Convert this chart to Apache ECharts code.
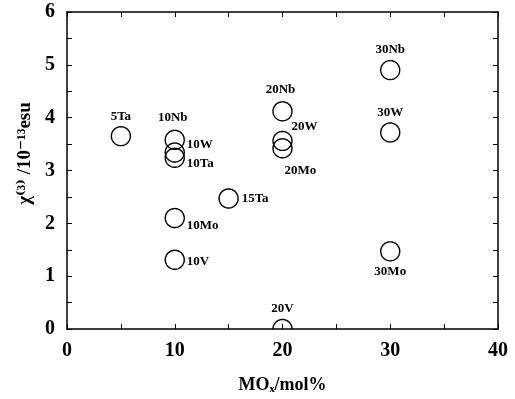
<!DOCTYPE html>
<html>
<head>
<meta charset="utf-8">
<script src="https://cdn.jsdelivr.net/npm/echarts@6/dist/echarts.min.js"></script>
<style>
html,body{margin:0;padding:0;background:#fff;}
#c{width:515px;height:399px;}
</style>
</head>
<body>
<div id="c"></div>
<script>
// Data
const names = ['5Ta','10Nb','10W','10Ta','15Ta','10Mo','10V','20Nb','20W','20Mo','20V','30Nb','30W','30Mo'];
const moxMol = [5,10,10,10,15,10,10,20,20,20,20,30,30,30];
const chi3 = [3.65,3.58,3.34,3.24,2.47,2.1,1.31,4.12,3.56,3.42,0,4.9,3.72,1.47];
const xTicks = [0,10,20,30,40];
const yTicks = [0,1,2,3,4,5,6];

// Label placement (style only): [dx, dy, align]
const labelPlace = {
  '5Ta':[0,-20,'center'], '10Nb':[-2,-22,'center'], '10W':[12,-8,'left'], '10Ta':[12,6,'left'],
  '15Ta':[13,0,'left'], '10Mo':[12,8,'left'], '10V':[12,2,'left'], '20Nb':[-2,-22,'center'],
  '20W':[9,-14,'left'], '20Mo':[2,22,'left'], '20V':[0,-20,'center'], '30Nb':[0,-20,'center'],
  '30W':[0,-20,'center'], '30Mo':[0,20,'center']
};

const FONT = '"Liberation Serif","DejaVu Serif",serif';
const chart = echarts.init(document.getElementById('c'), null, {renderer:'canvas'});

const axLine = {show:true, onZero:false, lineStyle:{color:'#000', width:1.5}};
const tick = {show:true, inside:true, length:5, lineStyle:{color:'#000', width:1}};
const minor = {show:true, splitNumber:2, length:5, lineStyle:{color:'#000', width:1}};

chart.setOption({
  animation:false,
  backgroundColor:'#fff',
  grid:{left:67, right:17, top:12, bottom:68, containLabel:false},
  xAxis:[{
    type:'value', min:xTicks[0], max:xTicks[xTicks.length-1], interval:10, position:'bottom',
    axisLine:axLine, axisTick:tick, minorTick:minor, splitLine:{show:false},
    axisLabel:{color:'#000', fontFamily:FONT, fontWeight:'bold', fontSize:20, margin:12},
    name:'MOₓ/mol%', nameLocation:'middle', nameGap:47,
    nameTextStyle:{color:'#000', fontFamily:FONT, fontWeight:'bold', fontSize:18}
  },{
    type:'value', min:xTicks[0], max:xTicks[xTicks.length-1], interval:10, position:'top',
    axisLine:axLine, axisTick:tick, minorTick:minor, splitLine:{show:false}, axisLabel:{show:false}
  }],
  yAxis:[{
    type:'value', min:yTicks[0], max:yTicks[yTicks.length-1], interval:1, position:'left',
    axisLine:axLine, axisTick:tick, minorTick:minor, splitLine:{show:false},
    axisLabel:{color:'#000', fontFamily:FONT, fontWeight:'bold', fontSize:20, margin:12},
    name:'χ⁽³⁾ /10⁻¹³esu', nameLocation:'middle', nameGap:28, nameRotate:90,
    nameTextStyle:{color:'#000', fontFamily:FONT, fontWeight:'bold', fontSize:19, padding:[0,0,0,34]}
  },{
    type:'value', min:yTicks[0], max:yTicks[yTicks.length-1], interval:1, position:'right',
    axisLine:axLine, axisTick:tick, minorTick:minor, splitLine:{show:false}, axisLabel:{show:false}
  }],
  series:[{
    type:'custom',
    coordinateSystem:'cartesian2d',
    clip:true,
    data: moxMol.map((x,i)=>[x, chi3[i]]),
    renderItem:function(params, api){
      const p = api.coord([api.value(0), api.value(1)]);
      const pb = api.coord([api.value(0), yTicks[0]]);
      const r = 9.5;
      const bottom = pb[1];
      let start = 0, end = Math.PI*2;
      const dy = bottom - p[1];
      if (dy < r) {
        const a = Math.asin(Math.max(-1, Math.min(1, dy/r)));
        start = Math.PI - a; end = 2*Math.PI + a;
      }
      const pts = [];
      const n = 64;
      for (let k = 0; k <= n; k++) {
        const t = start + (end - start) * k / n;
        pts.push([p[0] + r*Math.cos(t), p[1] + r*Math.sin(t)]);
      }
      const name = names[params.dataIndex];
      const lab = labelPlace[name] || [0,-20,'center'];
      return {type:'group', children:[
        {type:'polyline', shape:{points:pts},
         style:{fill:null, stroke:'#000', lineWidth:1.4}},
        {type:'text', x:p[0]+lab[0], y:p[1]+lab[1],
         style:{text:name, fill:'#000', font:'bold 13px ' + FONT, align:lab[2], verticalAlign:'middle'}}
      ]};
    }
  }]
});
</script>
</body>
</html>
